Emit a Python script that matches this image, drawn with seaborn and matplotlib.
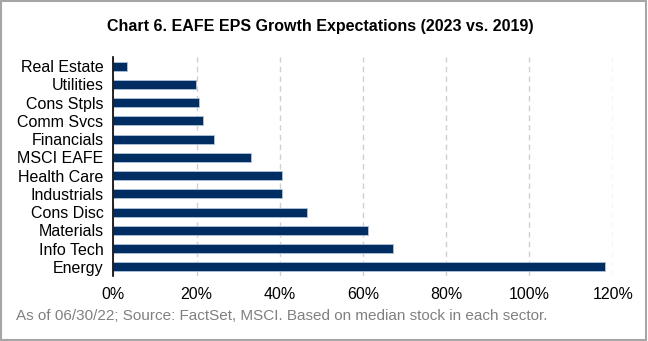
import matplotlib
matplotlib.use("Agg")
import matplotlib.pyplot as plt
import seaborn as sns
import pandas as pd
from matplotlib.patches import Rectangle
from matplotlib.ticker import FuncFormatter

sectors = ["Real Estate", "Utilities", "Cons Stpls", "Comm Svcs", "Financials",
           "MSCI EAFE", "Health Care", "Industrials", "Cons Disc", "Materials",
           "Info Tech", "Energy"]
growth = [3.4, 19.9, 20.7, 21.5, 24.3, 33.2, 40.5, 40.5, 46.6, 61.1, 67.2, 118.1]
xticks = [0, 20, 40, 60, 80, 100, 120]

df = pd.DataFrame({"sector": sectors, "growth": growth})

sns.set_theme(style="white")
plt.rcParams["font.family"] = ["Liberation Sans", "DejaVu Sans"]

fig = plt.figure(figsize=(6.48, 3.41), dpi=100)
ax = fig.add_axes([113.3 / 648, 1 - 276 / 341, (612.7 - 113.3) / 648, (276 - 57) / 341])

sns.barplot(data=df, x="growth", y="sector", orient="h", color="#002D62",
            width=0.5, edgecolor="#AFC3DC", linewidth=0.6, saturation=1, ax=ax)

ax.set_xlim(0, 120)
ax.set_xticks(xticks)
ax.xaxis.set_major_formatter(FuncFormatter(lambda v, p: f"{v:.0f}%"))
ax.set_xlabel("")
ax.set_ylabel("")
ax.grid(axis="x", color="#D0D0D0", linestyle=(0, (4, 3)), linewidth=1)
ax.set_axisbelow(True)
for s in ["top", "right", "bottom"]:
    ax.spines[s].set_visible(False)
ax.spines["left"].set_color("#000000")
ax.spines["left"].set_linewidth(1.2)
ax.tick_params(axis="x", length=0, pad=8, labelsize=11.5, colors="#000000")
ax.tick_params(axis="y", length=0, pad=7, labelsize=11.5, colors="#000000")

fig.text(0.494, 0.922, "Chart 6. EAFE EPS Growth Expectations (2023 vs. 2019)",
         ha="center", va="center", fontsize=11.5, fontweight="bold", color="#000000")
fig.text(16.5 / 648, 1 - 316 / 341,
         "As of 06/30/22; Source: FactSet, MSCI. Based on median stock in each sector.",
         ha="left", va="center", fontsize=11, color="#808080")

fig.patches.append(Rectangle((0.002, 0.003), 0.995, 0.994, transform=fig.transFigure,
                             fill=False, edgecolor="#A6A6A6", linewidth=1.5))

fig.savefig("out.png", dpi=100)
